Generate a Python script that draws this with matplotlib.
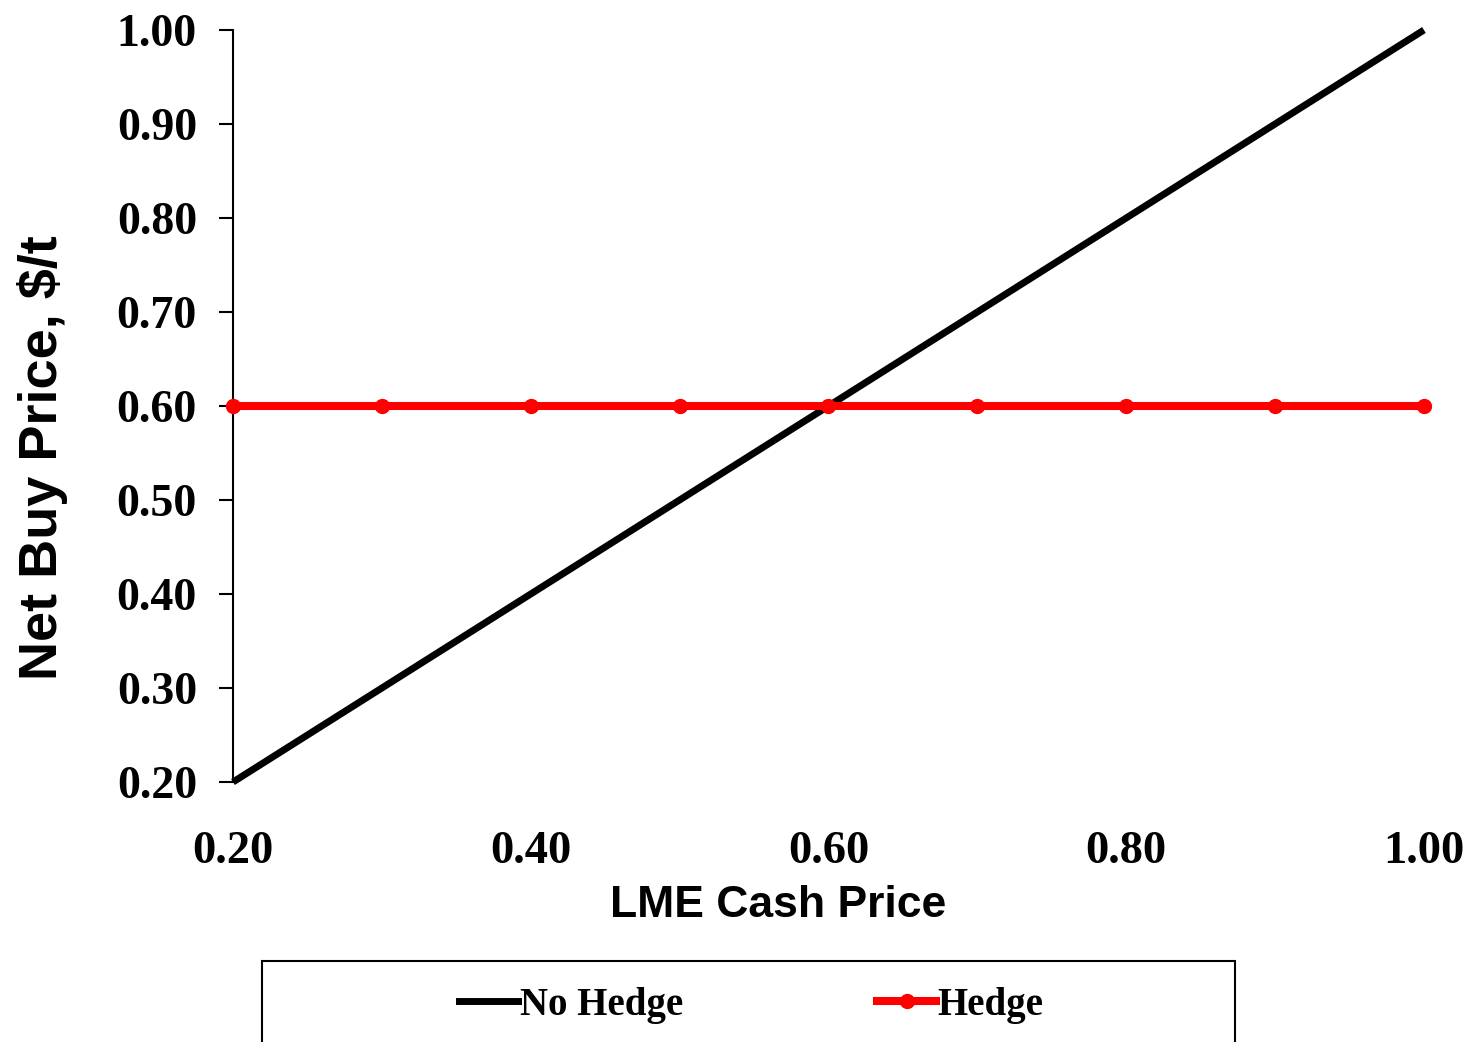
import matplotlib
matplotlib.use("Agg")
import matplotlib.pyplot as plt
from matplotlib.patches import Rectangle
from matplotlib.lines import Line2D

# LME cash price vs net buy price
lme_price = [0.2, 0.3, 0.4, 0.5, 0.6, 0.7, 0.8, 0.9, 1.0]
no_hedge = [0.2, 0.3, 0.4, 0.5, 0.6, 0.7, 0.8, 0.9, 1.0]
hedge = [0.6, 0.6, 0.6, 0.6, 0.6, 0.6, 0.6, 0.6, 0.6]

xticks = [0.2, 0.4, 0.6, 0.8, 1.0]
yticks = [0.2, 0.3, 0.4, 0.5, 0.6, 0.7, 0.8, 0.9, 1.0]

serif = "Liberation Serif"
sans = "Liberation Sans"

fig = plt.figure(figsize=(14.71, 10.42), dpi=100)
ax = fig.add_axes([0.1584, 0.2495, 0.8096, 0.7217])

ax.plot(lme_price, no_hedge, color="black", linewidth=5, solid_capstyle="butt",
        clip_on=False, zorder=3)
ax.plot(lme_price, hedge, color="#ff0000", linewidth=5.8, marker="o",
        markersize=10, clip_on=False, zorder=4)

ax.set_xlim(0.2, 1.0)
ax.set_ylim(0.2, 1.0)
ax.set_xticks(xticks)
ax.set_yticks(yticks)
ax.set_xticklabels(["%.2f" % v for v in xticks], fontfamily=serif,
                   fontweight="bold", fontsize=33.5)
ax.set_yticklabels(["%.2f" % v for v in yticks], fontfamily=serif,
                   fontweight="bold", fontsize=33)

for s in ["top", "right", "bottom"]:
    ax.spines[s].set_visible(False)
ax.spines["left"].set_linewidth(1.5)
ax.tick_params(axis="y", direction="out", length=10, width=1.5, pad=16)
ax.tick_params(axis="x", length=0, pad=35)

ax.set_xlabel("LME Cash Price", fontfamily=sans, fontweight="bold",
              fontsize=32)
ax.xaxis.set_label_coords(0.4576, -0.137)
ax.set_ylabel("Net Buy Price, $/t", fontfamily=sans, fontweight="bold",
              fontsize=39)
ax.yaxis.set_label_coords(-0.1385, 0.4315)

# legend box runs off the bottom edge
fig.patches.append(Rectangle((0.178, -0.05), 0.6616, 0.1277,
                             transform=fig.transFigure, fill=False,
                             edgecolor="black", linewidth=1.5))
handles = [Line2D([], [], color="black", linewidth=5),
           Line2D([], [], color="#ff0000", linewidth=5.8, marker="o",
                  markersize=10)]
fig.legend(handles, ["No Hedge", "Hedge"], loc="center",
           bbox_to_anchor=(0.5109, 0.0355), ncol=2, frameon=False,
           handlelength=1.5, handletextpad=0.05, columnspacing=5.0,
           prop={"family": serif, "weight": "bold", "size": 28})

fig.savefig("out.png", dpi=100)
